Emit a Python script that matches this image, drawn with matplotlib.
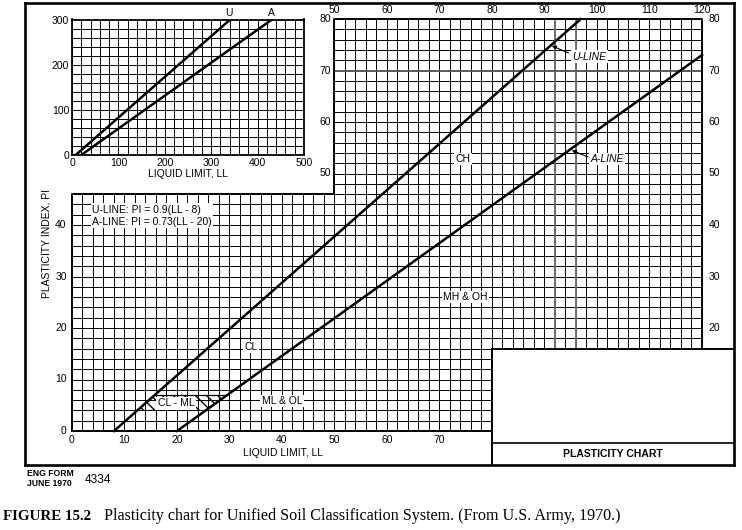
import matplotlib.pyplot as plt

plt.rcParams['font.family'] = ['Liberation Sans', 'DejaVu Sans']

# U-line and A-line end points on the main chart (LL, PI)
u_ll = [8, 96.9]
u_pi = [0, 80]
a_ll = [20, 120]
a_pi = [0, 73]

# same two lines on the small overview chart
u_ll_big = [8, 341]
u_pi_big = [0, 300]
a_ll_big = [20, 431]
a_pi_big = [0, 300]

# corners of the hatched CL-ML band
clml_ll = [12.4, 15.8, 29.6, 25.5]
clml_pi = [4, 7, 7, 4]

# tick labels
ll_low_ticks = [0, 10, 20, 30, 40, 50, 60, 70]
ll_top_ticks = [50, 60, 70, 80, 90, 100, 110, 120]
pi_left_ticks = [0, 10, 20, 30, 40]
pi_mid_ticks = [50, 60, 70, 80]
pi_right_ticks = [20, 30, 40, 50, 60, 70, 80]
inset_ll_ticks = [0, 100, 200, 300, 400, 500]
inset_pi_ticks = [0, 100, 200, 300]

# figure geometry in pixels
W, H = 742, 530
PX_X0, PX_Y0, SX, SY = 72, 431, 5.25, 5.15   # LL=0 / PI=0 pixel and px per unit
FL, FT, FR, FB = 25, 3, 734, 465              # outer frame

fig = plt.figure(figsize=(W / 100, H / 100), dpi=100)

# main chart, its axes box is the outer frame
ax = fig.add_axes([FL / W, (H - FB) / H, (FR - FL) / W, (FB - FT) / H])
x_lo, x_hi = (FL - PX_X0) / SX, (FR - PX_X0) / SX
y_lo, y_hi = (PX_Y0 - FB) / SY, (PX_Y0 - FT) / SY
ax.set_xlim(x_lo, x_hi)
ax.set_ylim(y_lo, y_hi)
ax.set_xticks([])
ax.set_yticks([])
for s in ax.spines.values():
    s.set_linewidth(1.9)

grid_kw = dict(color='black', lw=0.7, solid_capstyle='butt')

# grid lines, only inside the irregular chart area
for ll in range(0, 121, 2):
    if ll < 50:
        lo, hi = 0, 46
    elif ll < 80:
        lo, hi = 0, 80
    else:
        lo, hi = 16, 80
    ax.plot([ll, ll], [lo, hi], **grid_kw)
for pi in range(0, 81, 2):
    if pi < 16:
        lo, hi = 0, 80
    elif pi <= 46:
        lo, hi = 0, 120
    else:
        lo, hi = 50, 120
    ax.plot([lo, hi], [pi, pi], **grid_kw)

# darker grid lines from the scan
ax.plot([92, 92], [16, 80], color='#6e6e6e', lw=1.4)
ax.plot([96, 96], [16, 80], color='#6e6e6e', lw=1.4)
ax.plot([50, 120], [70, 70], color='#5e5e5e', lw=1.4)

# outline of the chart area and the title box
ax.plot([0, 80, 80, 120, 120, 50, 50, 0, 0], [0, 0, 16, 16, 80, 80, 46, 46, 0],
        color='black', lw=1.4)
ax.plot([80, 80], [y_lo, 16], color='black', lw=1.4)
ax.plot([120, x_hi], [16, 16], color='black', lw=1.4)
ax.plot([80, x_hi], [-2.33, -2.33], color='black', lw=1.2)

# U-line and A-line
ax.plot(u_ll, u_pi, color='black', lw=1.8)
ax.plot(a_ll, a_pi, color='black', lw=1.8)

# hatched CL-ML band
ax.fill(clml_ll, clml_pi, facecolor='none', edgecolor='black',
        hatch='\\\\\\', linewidth=0)
ax.plot(clml_ll[1:3], clml_pi[1:3], color='black', lw=0.9)

fs = 7.5
# tick labels
for v in ll_low_ticks:
    ax.text(v, -0.7, str(v), ha='center', va='top', fontsize=fs)
for v in ll_top_ticks:
    ax.text(v, 80.7, str(v), ha='center', va='bottom', fontsize=fs)
for v in pi_left_ticks:
    ax.text(-1.0, v, str(v), ha='right', va='center', fontsize=fs)
for v in pi_mid_ticks:
    ax.text(49.3, v, str(v), ha='right', va='center', fontsize=fs)
for v in pi_right_ticks:
    ax.text(121.2, v, str(v), ha='left', va='center', fontsize=fs)

ax.text(40.2, -4.3, 'LIQUID LIMIT, LL', ha='center', va='center', fontsize=fs)
ax.text(-4.8, 36.5, 'PLASTICITY INDEX, PI', ha='center', va='center',
        rotation=90, fontsize=fs)
ax.text(103, -4.45, 'PLASTICITY CHART', ha='center', va='center',
        fontsize=fs, fontweight='bold')

# zone labels with white patches over the grid
box = dict(facecolor='white', edgecolor='none', pad=1.0)
ax.text(3.8, 41.8, 'U-LINE: PI = 0.9(LL - 8)\nA-LINE: PI = 0.73(LL - 20)',
        ha='left', va='center', fontsize=fs, linespacing=1.25, bbox=box)
ax.text(74.5, 52.8, 'CH', ha='center', va='center', fontsize=fs, bbox=box)
ax.text(74.9, 26.0, 'MH & OH', ha='center', va='center', fontsize=fs, bbox=box)
ax.text(34.1, 16.3, 'CL', ha='center', va='center', fontsize=fs, bbox=box)
ax.text(40.0, 5.8, 'ML & OL', ha='center', va='center', fontsize=fs, bbox=box)
ax.text(19.8, 5.4, 'CL - ML', ha='center', va='center', fontsize=fs, bbox=box)

ax.text(95.3, 72.7, 'U-LINE', ha='left', va='center', fontsize=fs,
        style='italic', bbox=box)
ax.annotate('', xy=(91.4, 74.8), xytext=(94.6, 73.4),
            arrowprops=dict(arrowstyle='-|>', color='black', lw=0.8,
                            mutation_scale=6, shrinkA=0, shrinkB=0))
ax.text(98.8, 52.8, 'A-LINE', ha='left', va='center', fontsize=fs,
        style='italic', bbox=box)
ax.annotate('', xy=(95.2, 54.5), xytext=(98.3, 53.2),
            arrowprops=dict(arrowstyle='-|>', color='black', lw=0.8,
                            mutation_scale=6, shrinkA=0, shrinkB=0))

# small overview chart in the top-left corner
IL, IR, IT, IB = 72, 304, 19.5, 155
ins = fig.add_axes([IL / W, (H - IB) / H, (IR - IL) / W, (IB - IT) / H])
ins.set_xlim(0, 500)
ins.set_ylim(0, 300)
ins.set_xticks(inset_ll_ticks)
ins.set_yticks(inset_pi_ticks)
ins.set_xticks(range(0, 501, 20), minor=True)
ins.set_yticks(range(0, 301, 20), minor=True)
ins.tick_params(which='both', length=0, labelsize=fs, pad=2)
ins.grid(which='both', color='black', lw=0.7)
ins.set_axisbelow(True)
for s in ins.spines.values():
    s.set_linewidth(1.3)
ins.set_xlabel('LIQUID LIMIT, LL', fontsize=fs, labelpad=1)
ins.plot(u_ll_big, u_pi_big, color='black', lw=1.8)
ins.plot(a_ll_big, a_pi_big, color='black', lw=1.8)
ins.text(u_ll_big[1] - 2, 303, 'U', ha='center', va='bottom', fontsize=fs)
ins.text(a_ll_big[1] - 2, 303, 'A', ha='center', va='bottom', fontsize=fs)

# form number under the frame
fig.text(27 / W, 1 - 474 / H, 'ENG FORM', fontsize=6.2, fontweight='bold',
         va='center')
fig.text(27 / W, 1 - 483.5 / H, 'JUNE 1970', fontsize=6.2, fontweight='bold',
         va='center')
fig.text(85 / W, 1 - 480 / H, '4334', fontsize=8.6, va='center')

# caption
fig.text(3 / W, 1 - 516 / H, 'FIGURE 15.2', fontsize=10.8,
         family='Liberation Serif', fontweight='bold', va='center')
fig.text(104 / W, 1 - 516 / H,
         'Plasticity chart for Unified Soil Classification System. (From U.S. Army, 1970.)',
         fontsize=11.6, family='Liberation Serif', va='center')

fig.savefig('out.png', dpi=100)
